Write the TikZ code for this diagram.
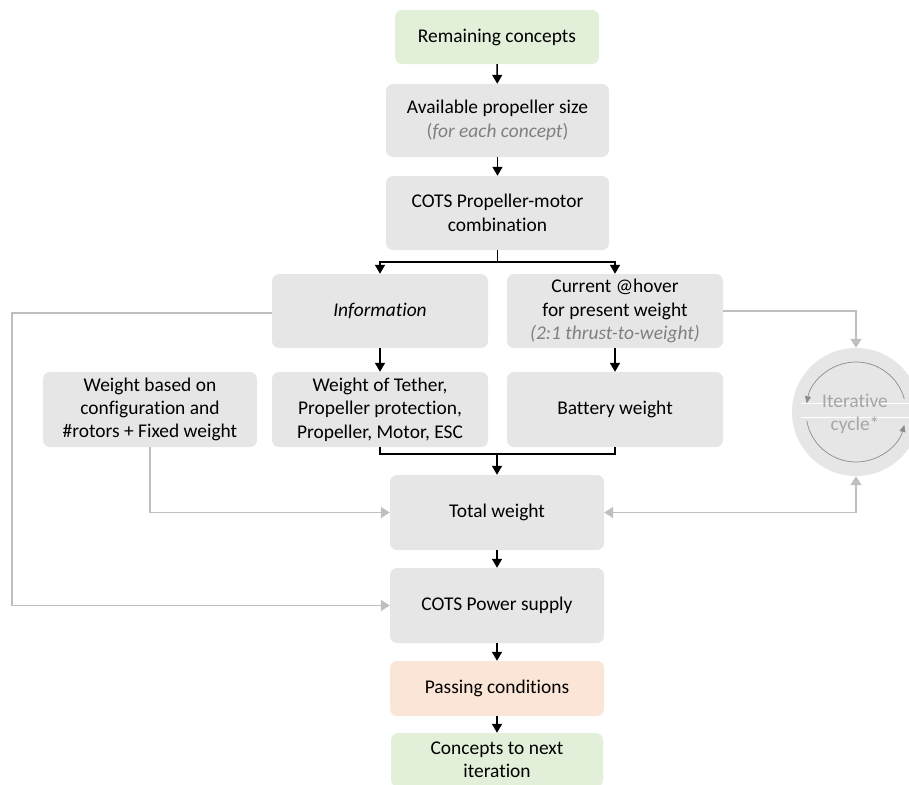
\documentclass[tikz,border=0pt]{standalone}
\usepackage{fontspec}
\setmainfont{Carlito}[Ligatures=NoCommon]
\usetikzlibrary{arrows.meta,calc}
\definecolor{boxgray}{HTML}{E6E6E6}
\definecolor{boxgreen}{HTML}{E2F0D9}
\definecolor{boxorange}{HTML}{FBE5D6}
\definecolor{linegray}{HTML}{BFBFBF}
\definecolor{notegray}{HTML}{808080}
\definecolor{cyclegray}{HTML}{A6A6A6}
\definecolor{arcgray}{HTML}{8C8C8C}
\begin{document}
\begin{tikzpicture}[x=1bp,y=-1bp,
  box/.style={rounded corners=7bp, fill=boxgray, draw=none, align=center,
    inner sep=0pt, font=\fontsize{19.5}{23.5}\selectfont, text=black},
  greenbox/.style={box, fill=boxgreen},
  orangebox/.style={box, fill=boxorange},
  flow/.style={draw=black, line width=1.5bp, -{Triangle[length=9bp,width=10bp]}},
  plain/.style={draw=black, line width=1.5bp},
  feedback/.style={draw=linegray, line width=1.5bp, -{Triangle[length=9bp,width=11bp]}}
]
\useasboundingbox (0,0) rectangle (909,785);

% main column
\node[greenbox, minimum width=204bp, minimum height=54bp] (rem) at (497,37) {Remaining concepts};
\node[box, minimum width=223bp, minimum height=73bp] (avail) at (497.5,120.5)
  {Available propeller size\\{\color{notegray}(\textit{for each concept})}};
\node[box, minimum width=223bp, minimum height=74bp] (cots) at (497.5,213)
  {COTS Propeller-motor\\combination};

% two branches
\node[box, minimum width=216bp, minimum height=74bp] (info) at (380,311) {\textit{Information}};
\node[box, minimum width=216bp, minimum height=74bp] (curr) at (615,311)
  {Current @hover\\for present weight\\{\color{notegray}\itshape (2:1 thrust-to-weight)}};

\node[box, minimum width=214bp, minimum height=75bp] (wbase) at (150,409.5)
  {Weight based on\\configuration and\\\#rotors + Fixed weight};
\node[box, minimum width=216bp, minimum height=75bp] (wteth) at (380,409.5)
  {Weight of Tether,\\Propeller protection,\\Propeller, Motor, ESC};
\node[box, minimum width=216bp, minimum height=75bp] (batt) at (615,409.5) {Battery weight};

\node[box, minimum width=214bp, minimum height=75bp] (total) at (497,512.5) {Total weight};
\node[box, minimum width=214bp, minimum height=75bp] (power) at (497,605.5) {COTS Power supply};
\node[orangebox, minimum width=214bp, minimum height=55bp] (pass) at (497,688.5) {Passing conditions};
\node[greenbox, minimum width=212bp, minimum height=54bp] (next) at (497,760)
  {Concepts to next\\iteration};

% iteration cycle symbol
\node[circle, fill=boxgray, minimum size=128bp, inner sep=0pt] (cyc) at (856,412) {};
\draw[white, line width=0.8bp] (801,403) -- (912,403);
\draw[white, line width=0.8bp] (801,417) -- (912,417);
\draw[arcgray, line width=0.7bp, -{Triangle[length=7bp,width=6bp]}]
  ($(cyc.center)+(-15:50)$) arc[start angle=-15, end angle=-170, radius=50];
\draw[arcgray, line width=0.7bp, -{Triangle[length=7bp,width=6bp]}]
  ($(cyc.center)+(-190:50)$) arc[start angle=-190, end angle=-345, radius=50];
\node[text=cyclegray, align=center, font=\fontsize{19.5}{23.5}\selectfont] (cyctext) at (855,414)
  {Iterative\\cycle*};

% main flow connectors
\draw[flow] (rem) -- (avail);
\draw[flow] (avail) -- (cots);
\coordinate (split) at ($(cots.south)+(0,12)$);
\draw[plain] (cots.south) -- (split);
\draw[flow] (split) -| (info.north);
\draw[flow] (split) -| (curr.north);
\draw[flow] (info) -- (wteth);
\draw[flow] (curr) -- (batt);
\coordinate (merge) at ($(total.north)+(0,-21)$);
\draw[plain] (wteth.south) |- (merge) -| (batt.south);
\draw[flow] (merge) -- (total.north);
\draw[flow] (total) -- (power);
\draw[flow] (power) -- (pass);
\draw[flow] (pass) -- (next);

% feedback connectors
\coordinate (leftrail) at (12,313);
\draw[feedback] (info.west |- leftrail) -- (leftrail) |- (power.west);
\draw[feedback] (wbase.south) |- (total.west);
\draw[feedback] (curr.east) -| (cyc.north);
\draw[feedback, {Triangle[length=9bp,width=11bp]}-{Triangle[length=9bp,width=11bp]}]
  (total.east) -| (cyc.south);
\end{tikzpicture}
\end{document}
